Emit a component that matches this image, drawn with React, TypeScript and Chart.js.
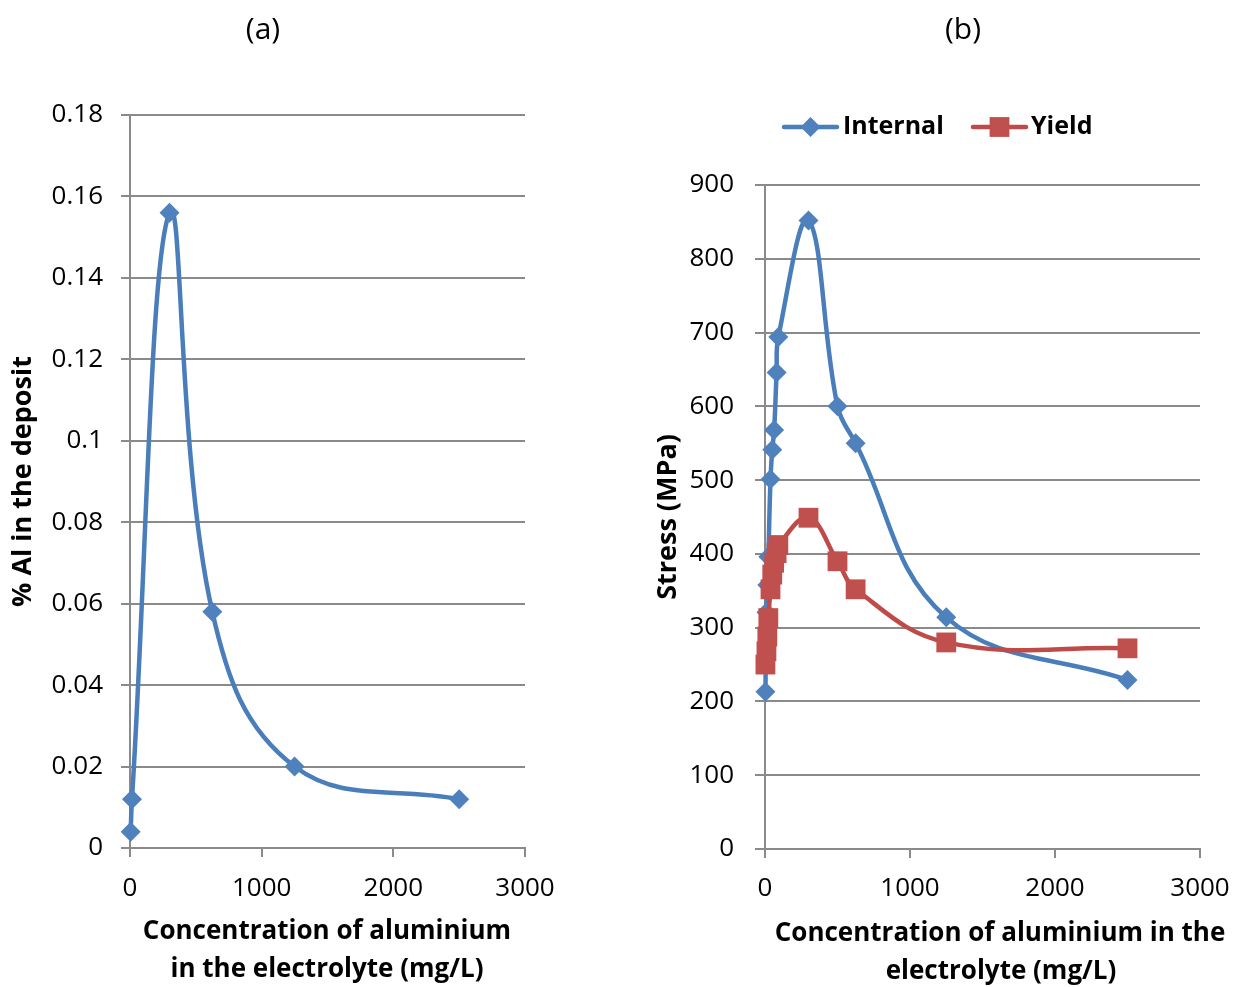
import React, { useEffect, useRef } from 'react';
import { Chart, registerables } from 'chart.js';

Chart.register(...registerables);

// ---------- data ----------
const xTickValues = [0, 1000, 2000, 3000];

const concA = [5, 15, 300, 625, 1250, 2500];
const alInDeposit = [0.004, 0.012, 0.156, 0.058, 0.02, 0.012];
const yTicksA = [0, 0.02, 0.04, 0.06, 0.08, 0.1, 0.12, 0.14, 0.16, 0.18];

const concB = [3, 10, 16, 23, 38, 50, 63, 80, 92, 300, 500, 625, 1250, 2500];
const internalStress = [213, 321, 358, 396, 501, 541, 568, 646, 694, 852, 600, 550, 314, 229];
const yieldStress = [250, 268, 288, 313, 352, 372, 388, 401, 412, 449, 390, 352, 280, 272];
const yTicksB = [0, 100, 200, 300, 400, 500, 600, 700, 800, 900];

const seriesNames = ['Internal', 'Yield'];

// ---------- styles ----------
const W = 1241;
const H = 987;
const FAMILY = "'Open Sans', sans-serif";
const GRID = '#8a8a8a';
const BLUE = '#4A7EBB';
const BLUE_FILL = '#4F81BD';
const RED = '#BE4B48';
const RED_FILL = '#C0504D';

function drawMarker(ctx: CanvasRenderingContext2D, style: string, x: number, y: number, r: number, color: string) {
  ctx.save();
  ctx.fillStyle = color;
  ctx.beginPath();
  if (style === 'rectRot') {
    ctx.moveTo(x, y - r);
    ctx.lineTo(x + r, y);
    ctx.lineTo(x, y + r);
    ctx.lineTo(x - r, y);
    ctx.closePath();
  } else {
    const s = Math.SQRT1_2 * r;
    ctx.rect(x - s, y - s, 2 * s, 2 * s);
  }
  ctx.fill();
  ctx.restore();
}

const freeTextPlugin = {
  id: 'freeText',
  afterDraw(chart: any, _args: any, opts: any) {
    const ctx: CanvasRenderingContext2D = chart.ctx;
    (opts.items || []).forEach((it: any) => {
      ctx.save();
      ctx.font = it.font;
      ctx.fillStyle = '#000';
      ctx.textAlign = it.align || 'center';
      ctx.textBaseline = 'middle';
      ctx.fillText(it.text, it.x, it.y);
      ctx.restore();
    });
    (opts.legend || []).forEach((lg: any) => {
      const ds = chart.data.datasets[lg.dataset];
      ctx.save();
      ctx.strokeStyle = ds.borderColor;
      ctx.lineWidth = ds.borderWidth;
      ctx.lineCap = 'round';
      ctx.beginPath();
      ctx.moveTo(lg.x1, lg.y);
      ctx.lineTo(lg.x2, lg.y);
      ctx.stroke();
      ctx.restore();
      drawMarker(ctx, ds.pointStyle, (lg.x1 + lg.x2) / 2, lg.y, ds.pointRadius, ds.pointBackgroundColor);
      ctx.save();
      ctx.font = lg.font;
      ctx.fillStyle = '#000';
      ctx.textAlign = 'left';
      ctx.textBaseline = 'middle';
      ctx.fillText(ds.label, lg.textX, lg.y);
      ctx.restore();
    });
  },
};

const tickFont = { family: FAMILY, size: 26 };
const titleFont = { family: FAMILY, size: 27, weight: 'bold' as const };

function pairs(xs: number[], ys: number[]) {
  return xs.map((x, i) => ({ x, y: ys[i] }));
}

function fmt(v: number) {
  return String(Number(v.toFixed(2)));
}

function makeScales(opts: {
  yTicks: number[];
  yMax: number;
  yWidth: number;
  xHeight: number;
  yTitle: string;
  yTitlePad: number;
  yTickPad: number;
  yTickLen: number;
  xTickPad: number;
}) {
  return {
    x: {
      type: 'linear' as const,
      min: 0,
      max: 3000,
      afterBuildTicks: (s: any) => {
        s.ticks = xTickValues.map((v) => ({ value: v }));
      },
      afterFit: (s: any) => {
        s.height = opts.xHeight;
        s.paddingLeft = 0;
        s.paddingRight = 0;
      },
      grid: { drawOnChartArea: false, drawTicks: true, tickLength: 9, color: GRID, lineWidth: 2 },
      border: { color: GRID, width: 2 },
      ticks: { font: tickFont, color: '#000', padding: opts.xTickPad, maxRotation: 0, callback: (v: any) => String(v) },
    },
    y: {
      type: 'linear' as const,
      min: 0,
      max: opts.yMax,
      afterBuildTicks: (s: any) => {
        s.ticks = opts.yTicks.map((v) => ({ value: v }));
      },
      afterFit: (s: any) => {
        s.width = opts.yWidth;
        s.paddingTop = 0;
        s.paddingBottom = 0;
      },
      grid: { color: GRID, lineWidth: 2, tickLength: opts.yTickLen },
      border: { color: GRID, width: 2 },
      ticks: { font: tickFont, color: '#000', padding: opts.yTickPad, callback: (v: any) => fmt(Number(v)) },
      title: {
        display: true,
        text: opts.yTitle,
        font: titleFont,
        color: '#000',
        padding: { top: opts.yTitlePad, bottom: 0 },
      },
    },
  };
}

export default function App() {
  const ref1 = useRef<HTMLCanvasElement>(null);
  const ref2 = useRef<HTMLCanvasElement>(null);

  useEffect(() => {
    const c1 = new Chart(ref1.current as HTMLCanvasElement, {
      type: 'line',
      data: {
        datasets: [
          {
            label: '% Al',
            data: pairs(concA, alInDeposit),
            borderColor: BLUE,
            borderWidth: 4.5,
            pointStyle: 'rectRot',
            pointRadius: 10,
            pointBackgroundColor: BLUE_FILL,
            pointBorderColor: BLUE_FILL,
            pointBorderWidth: 0,
            tension: 0.4,
            clip: false as any,
          },
        ],
      },
      options: {
        responsive: false,
        animation: false,
        events: [],
        layout: { padding: { left: 0, top: 115, right: W - 525, bottom: 0 } },
        plugins: {
          legend: { display: false },
          tooltip: { enabled: false },
          freeText: {
            items: [
              { text: '(a)', x: 263, y: 30, font: `30px ${FAMILY}` },
              { text: 'Concentration of aluminium', x: 327, y: 932, font: `bold 26px ${FAMILY}` },
              { text: 'in the electrolyte (mg/L)', x: 327, y: 970, font: `bold 26px ${FAMILY}` },
            ],
          },
        } as any,
        scales: makeScales({
          yTicks: yTicksA,
          yMax: 0.18,
          yWidth: 130,
          xHeight: H - 848,
          yTitle: '% Al in the deposit',
          yTitlePad: 7,
          yTickPad: 18,
          yTickLen: 9,
          xTickPad: 16,
        }) as any,
      },
      plugins: [freeTextPlugin],
    });

    const c2 = new Chart(ref2.current as HTMLCanvasElement, {
      type: 'line',
      data: {
        datasets: [
          {
            label: seriesNames[0],
            data: pairs(concB, internalStress),
            borderColor: BLUE,
            borderWidth: 4.5,
            pointStyle: 'rectRot',
            pointRadius: 10,
            pointBackgroundColor: BLUE_FILL,
            pointBorderColor: BLUE_FILL,
            pointBorderWidth: 0,
            tension: 0.4,
            order: 1,
            clip: false as any,
          },
          {
            label: seriesNames[1],
            data: pairs(concB, yieldStress),
            borderColor: RED,
            borderWidth: 4.5,
            pointStyle: 'rect',
            pointRadius: 14,
            pointBackgroundColor: RED_FILL,
            pointBorderColor: RED_FILL,
            pointBorderWidth: 0,
            tension: 0.4,
            order: 0,
            clip: false as any,
          },
        ],
      },
      options: {
        responsive: false,
        animation: false,
        events: [],
        layout: { padding: { left: 620, top: 185, right: W - 1200, bottom: 0 } },
        plugins: {
          legend: { display: false },
          tooltip: { enabled: false },
          freeText: {
            items: [
              { text: '(b)', x: 963, y: 30, font: `30px ${FAMILY}` },
              { text: 'Concentration of aluminium in the', x: 1000, y: 934, font: `bold 26px ${FAMILY}` },
              { text: 'electrolyte (mg/L)', x: 1001, y: 972, font: `bold 26px ${FAMILY}` },
            ],
            legend: [
              { dataset: 0, x1: 784, x2: 837, y: 127, textX: 843, font: `bold 25px ${FAMILY}` },
              { dataset: 1, x1: 973, x2: 1026, y: 127, textX: 1031, font: `bold 25px ${FAMILY}` },
            ],
          },
        } as any,
        scales: makeScales({
          yTicks: yTicksB,
          yMax: 900,
          yWidth: 145,
          xHeight: H - 849,
          yTitle: 'Stress (MPa)',
          yTitlePad: 32,
          yTickPad: 21,
          yTickLen: 10,
          xTickPad: 15,
        }) as any,
      },
      plugins: [freeTextPlugin],
    });

    return () => {
      c1.destroy();
      c2.destroy();
    };
  }, []);

  const canvasStyle: React.CSSProperties = { position: 'absolute', left: 0, top: 0, display: 'block' };
  return (
    <div style={{ position: 'fixed', left: 0, top: 0, width: W, height: H, background: '#fff' }}>
      <canvas ref={ref1} width={W} height={H} style={canvasStyle} />
      <canvas ref={ref2} width={W} height={H} style={canvasStyle} />
    </div>
  );
}
